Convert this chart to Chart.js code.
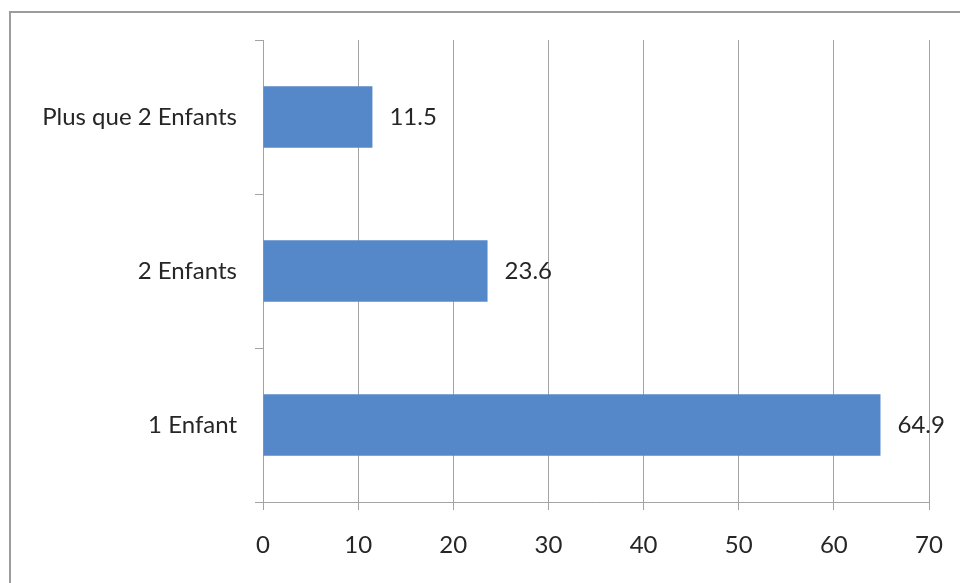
<!DOCTYPE html>
<html>
<head>
<meta charset="utf-8">
<script src="https://cdn.jsdelivr.net/npm/chart.js@4"></script>
<style>
  html, body { margin: 0; padding: 0; background: #fff; }
  #wrap { width: 960px; height: 583px; position: relative; }
</style>
</head>
<body>
<div id="wrap"><canvas id="c" width="960" height="583"></canvas></div>
<script>
const categories = ["Plus que 2 Enfants", "2 Enfants", "1 Enfant"];
const values = [11.5, 23.6, 64.9];
const xTicks = [0, 10, 20, 30, 40, 50, 60, 70];

const gridColor = '#a3a3a3';
const textColor = '#262626';
const fontFamily = 'Lato, "Open Sans", sans-serif';
const fontSize = 24;

const framePlugin = {
  id: 'frame',
  beforeDraw(chart) {
    const ctx = chart.ctx;
    ctx.save();
    ctx.strokeStyle = '#9c9c9c';
    ctx.lineWidth = 2;
    ctx.beginPath();
    ctx.moveTo(10, 583);
    ctx.lineTo(10, 12);
    ctx.lineTo(960, 12);
    ctx.stroke();
    ctx.restore();
  }
};

const labelPlugin = {
  id: 'valueLabels',
  afterDatasetsDraw(chart) {
    const ctx = chart.ctx;
    const meta = chart.getDatasetMeta(0);
    ctx.save();
    ctx.font = fontSize + 'px ' + fontFamily;
    ctx.fillStyle = textColor;
    ctx.textAlign = 'left';
    ctx.textBaseline = 'middle';
    meta.data.forEach((bar, i) => {
      ctx.fillText(String(values[i]), bar.x + 17, bar.y);
    });
    ctx.restore();
  }
};

new Chart(document.getElementById('c'), {
  type: 'bar',
  data: {
    labels: categories,
    datasets: [{
      data: values,
      backgroundColor: '#5588C8',
      borderWidth: 0,
      categoryPercentage: 1.0,
      barPercentage: 0.4
    }]
  },
  options: {
    indexAxis: 'y',
    responsive: false,
    animation: false,
    layout: { padding: { left: 0, top: 40, right: 31, bottom: 0 } },
    plugins: {
      legend: { display: false },
      tooltip: { enabled: false }
    },
    scales: {
      x: {
        type: 'linear',
        min: 0,
        max: 70,
        afterBuildTicks(scale) {
          scale.ticks = xTicks.map(v => ({ value: v }));
        },
        afterFit(scale) {
          scale.height = 81;
          scale.paddingLeft = 0;
          scale.paddingRight = 0;
        },
        grid: {
          color: gridColor,
          lineWidth: 1,
          tickLength: 8,
          drawOnChartArea: true
        },
        border: { display: true, color: gridColor, width: 1 },
        ticks: {
          color: textColor,
          font: { family: fontFamily, size: fontSize },
          padding: 21
        }
      },
      y: {
        type: 'category',
        offset: true,
        afterFit(scale) {
          scale.width = 263;
          scale.paddingTop = 0;
          scale.paddingBottom = 0;
        },
        grid: {
          offset: true,
          color: gridColor,
          tickLength: 8,
          drawOnChartArea: false
        },
        border: { display: true, color: gridColor, width: 1 },
        ticks: {
          color: textColor,
          font: { family: fontFamily, size: fontSize },
          padding: 18
        }
      }
    }
  },
  plugins: [framePlugin, labelPlugin]
});
</script>
</body>
</html>
